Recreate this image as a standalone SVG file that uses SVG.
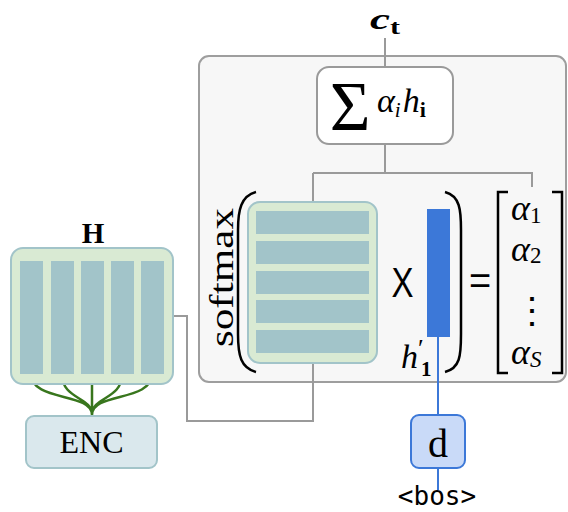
<svg xmlns="http://www.w3.org/2000/svg" width="568" height="512" viewBox="0 0 568 512">
  <style>
    .serif { font-family: "Liberation Serif", "DejaVu Serif", serif; fill: #000; }
    .sans { font-family: "Liberation Sans", "DejaVu Sans", sans-serif; fill: #000; }
    .mono { font-family: "DejaVu Sans Mono", "Liberation Mono", monospace; fill: #000; }
    .it { font-style: italic; }
    .wire { fill: none; stroke: #9a9a9a; stroke-width: 2; }
    .enc-wire { fill: none; stroke: #38761d; stroke-width: 2.5; }
    .dec-wire { fill: none; stroke: #3c78d8; stroke-width: 2; }
    .grid { fill: #d9ead3; stroke: #a2c4c9; stroke-width: 2; }
    .cell { fill: #a2c4c9; }
    .delim { fill: none; stroke: #000; stroke-width: 2.5; }
  </style>

  <!-- attention block frame -->
  <g id="attention">
    <rect x="199" y="56" width="367" height="326" rx="10" fill="#f7f7f7" stroke="#9e9e9e" stroke-width="2"/>
  </g>

  <!-- connectors -->
  <g id="connectors">
    <path class="wire" d="M385,38 V67"/>
    <path class="wire" d="M385,144 V173 M313,173 H532 V187 M313,173 V202"/>
    <path class="wire" d="M173,316 H187 V421 H313 V363"/>
    <path class="dec-wire" d="M438,337 V415 M438,468 V490"/>
    <path class="enc-wire" d="M31,374 C31,402 92,392 92,415 M62,374 C62,400 92,396 92,415 M92,374 V415 M122,374 C122,400 92,396 92,415 M152,374 C152,402 92,392 92,415"/>
  </g>

  <!-- context vector label -->
  <g id="context">
    <text class="serif" x="370" y="29" font-size="30" font-weight="bold" textLength="30" lengthAdjust="spacingAndGlyphs"><tspan font-style="italic">c</tspan><tspan font-size="20" dy="5">t</tspan></text>
  </g>

  <!-- weighted sum -->
  <g id="sum">
    <rect x="317" y="67" width="136" height="77" rx="12" fill="#fff" stroke="#9a9a9a" stroke-width="2"/>
    <text class="serif" x="350" y="130" font-size="70" text-anchor="middle">Σ</text>
    <text class="serif it" x="377" y="112" font-size="34">α<tspan font-size="21" dy="5">i</tspan><tspan dy="-5" dx="2">h</tspan><tspan font-size="22" font-style="normal" font-weight="bold" dy="5">i</tspan></text>
  </g>

  <!-- encoder states H -->
  <g id="H">
    <text class="serif" x="93" y="243" font-size="29" font-weight="bold" text-anchor="middle">H</text>
    <rect class="grid" x="11" y="248" width="162" height="136" rx="12"/>
    <rect class="cell" x="20" y="261" width="23" height="113"/>
    <rect class="cell" x="51" y="261" width="23" height="113"/>
    <rect class="cell" x="81" y="261" width="23" height="113"/>
    <rect class="cell" x="111" y="261" width="23" height="113"/>
    <rect class="cell" x="141" y="261" width="23" height="113"/>
  </g>

  <!-- encoder -->
  <g id="ENC">
    <rect x="26" y="416" width="131" height="52" rx="8" fill="#dae8ed" stroke="#a2c4c9" stroke-width="2"/>
    <text class="serif" x="91.5" y="453" font-size="32" text-anchor="middle">ENC</text>
  </g>

  <!-- softmax(H^T x h'_1) -->
  <g id="softmax">
    <text class="serif" transform="translate(233,277.5) rotate(-90)" x="0" y="0" font-size="34" text-anchor="middle" textLength="139" lengthAdjust="spacingAndGlyphs">softmax</text>
    <path class="delim" d="M256,192 C241,196 238,210 238,230 L238,334 C238,356 241,368 256,372"/>
    <path class="delim" d="M445,192 C460,196 461,210 461,230 L461,334 C461,356 460,368 445,372"/>
    <rect class="grid" x="248" y="202" width="129" height="161" rx="12"/>
    <rect class="cell" x="256" y="211" width="113" height="23"/>
    <rect class="cell" x="256" y="241" width="113" height="23"/>
    <rect class="cell" x="256" y="271" width="113" height="23"/>
    <rect class="cell" x="256" y="300" width="113" height="23"/>
    <rect class="cell" x="256" y="330" width="113" height="23"/>
    <text class="sans" x="402.5" y="297" font-size="42" text-anchor="middle" textLength="22" lengthAdjust="spacingAndGlyphs">X</text>
    <rect x="427" y="209" width="23" height="128" fill="#3c78d8"/>
    <text class="serif it" x="401" y="368" font-size="34">h<tspan font-style="normal" font-size="26" dy="-11">′</tspan><tspan x="421" dy="19" font-style="normal" font-weight="bold" font-size="21">1</tspan></text>
  </g>

  <!-- attention weights -->
  <g id="alpha">
    <text class="sans" x="480" y="294" font-size="38" text-anchor="middle">=</text>
    <path class="delim" d="M508,192 H498 V373 H508"/>
    <path class="delim" d="M552,192 H562 V373 H552"/>
    <text class="serif it" x="511" y="220" font-size="36">α<tspan font-style="normal" font-size="23" dy="3">1</tspan></text>
    <text class="serif it" x="511" y="261" font-size="36">α<tspan font-style="normal" font-size="23" dy="2">2</tspan></text>
    <text class="serif" x="532" y="323" font-size="36" text-anchor="middle">⋮</text>
    <text class="serif it" x="511" y="364" font-size="36">α<tspan font-size="23" dy="3">S</tspan></text>
  </g>

  <!-- decoder -->
  <g id="d">
    <rect x="411" y="415" width="54" height="53" rx="8" fill="#c9daf8" stroke="#3c78d8" stroke-width="2"/>
    <text class="serif" x="438" y="457" font-size="40" text-anchor="middle">d</text>
    <text class="mono" x="437" y="505" font-size="26" text-anchor="middle">&lt;bos&gt;</text>
  </g>
</svg>
